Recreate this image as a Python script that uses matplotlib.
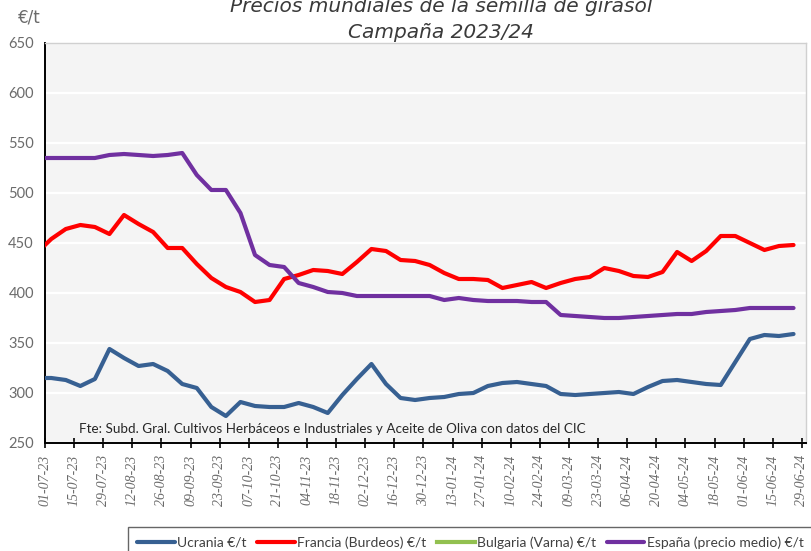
import numpy as np
import pandas as pd
import matplotlib
matplotlib.use('Agg')
import matplotlib.pyplot as plt
import matplotlib.dates as mdates

# Weekly quotations (Tuesdays), first one falls just before the campaign start
fechas = pd.date_range('2023-06-27', '2024-06-25', freq='7D')

ucrania = [315, 315, 313, 307, 314, 344, 335, 327, 329, 322, 309, 305, 286, 277,
           291, 287, 286, 286, 290, 286, 280, 298, 314, 329, 309, 295, 293, 295,
           296, 299, 300, 307, 310, 311, 309, 307, 299, 298, 299, 300, 301, 299,
           306, 312, 313, 311, 309, 308, 331, 354, 358, 357, 359]
francia = [440, 454, 464, 468, 466, 459, 478, 469, 461, 445, 445, 429, 415, 406,
           401, 391, 393, 414, 418, 423, 422, 419, 431, 444, 442, 433, 432, 428,
           420, 414, 414, 413, 405, 408, 411, 405, 410, 414, 416, 425, 422, 417,
           416, 421, 441, 432, 442, 457, 457, 450, 443, 447, 448]
bulgaria = []  # no quotations this campaign
espana = [535, 535, 535, 535, 535, 538, 539, 538, 537, 538, 540, 518, 503, 503,
          480, 438, 428, 426, 410, 406, 401, 400, 397, 397, 397, 397, 397, 397,
          393, 395, 393, 392, 392, 392, 391, 391, 378, 377, 376, 375, 375, 376,
          377, 378, 379, 379, 381, 382, 383, 385, 385, 385, 385]

series = [
    ('Ucrania €/t', ucrania, '#376092'),
    ('Francia (Burdeos) €/t', francia, '#FF0000'),
    ('Bulgaria (Varna) €/t', bulgaria, '#92C050'),
    ('España (precio medio) €/t', espana, '#7030A0'),
]

inicio = pd.Timestamp('2023-07-01')
fin = pd.Timestamp('2024-07-01')
y_ticks = [250, 300, 350, 400, 450, 500, 550, 600, 650]

gris = '#6B6B6B'
fig = plt.figure(figsize=(8.11, 5.51), dpi=100)
ax = fig.add_axes([45 / 811, 1 - 443 / 551, 761 / 811, 400 / 551])
ax.set_facecolor('#F4F4F4')

for nombre, valores, color in series:
    if len(valores):
        ax.plot(fechas, valores, color=color, lw=3.0, label=nombre,
                solid_joinstyle='round', solid_capstyle='round', zorder=3)
    else:
        ax.plot([], [], color=color, lw=3.0, label=nombre)

ax.set_xlim(inicio, fin)
ax.set_ylim(250, 650)
ax.set_yticks(y_ticks)
ax.grid(axis='y', color='white', lw=1.6, zorder=0)
ax.set_axisbelow(True)

ax.set_xticks(pd.date_range(inicio, '2024-06-29', freq='14D'))
ax.xaxis.set_major_formatter(mdates.DateFormatter('%d-%m-%y'))
for lbl in ax.get_xticklabels():
    lbl.set_rotation(90)
    lbl.set_fontfamily(['Liberation Serif', 'DejaVu Serif'])
    lbl.set_fontstyle('italic')
    lbl.set_fontsize(10)
    lbl.set_color(gris)
ax.tick_params(axis='x', direction='inout', length=7, width=1.2, color='black', pad=5)
ax.tick_params(axis='y', length=0, pad=8, labelsize=10.5, labelcolor=gris)
for lbl in ax.get_yticklabels():
    lbl.set_fontfamily(['Lato', 'DejaVu Sans'])

for lado in ['top', 'right']:
    ax.spines[lado].set_color('#D0D0D0')
    ax.spines[lado].set_linewidth(1.0)
for lado in ['left', 'bottom']:
    ax.spines[lado].set_color('black')
    ax.spines[lado].set_linewidth(1.4)

ax.text(0.045, 0.02, 'Fte: Subd. Gral. Cultivos Herbáceos e Industriales y Aceite de Oliva con datos del CIC',
        transform=ax.transAxes, fontsize=9.7, color='#262626',
        family=['Lato', 'DejaVu Sans'], ha='left', va='bottom')

titulo = dict(ha='center', va='center', fontsize=14.5, style='italic', color='#3A3A3A',
              family=['Liberation Sans Narrow', 'DejaVu Sans'])
fig.text(441 / 811, 1 - 6 / 551, 'Precios mundiales de la semilla de girasol', **titulo)
fig.text(441 / 811, 1 - 32 / 551, 'Campaña 2023/24', **titulo)
fig.text(29 / 811, 1 - 17 / 551, '€/t', ha='center', va='center', fontsize=12,
         color=gris, family=['Liberation Sans Narrow', 'DejaVu Sans'])

leg = fig.legend(loc='upper left', bbox_to_anchor=(128 / 811, 1 - 527 / 551), ncol=4,
                 frameon=True, fancybox=False, handlelength=2.7, handletextpad=0.15,
                 columnspacing=0.8, borderpad=0.65, borderaxespad=0,
                 prop={'family': ['Lato', 'DejaVu Sans'], 'size': 10})
leg.get_frame().set_edgecolor('#404040')
leg.get_frame().set_linewidth(1.0)
for txt in leg.get_texts():
    txt.set_color('#404040')

fig.savefig('out.png', dpi=100)
